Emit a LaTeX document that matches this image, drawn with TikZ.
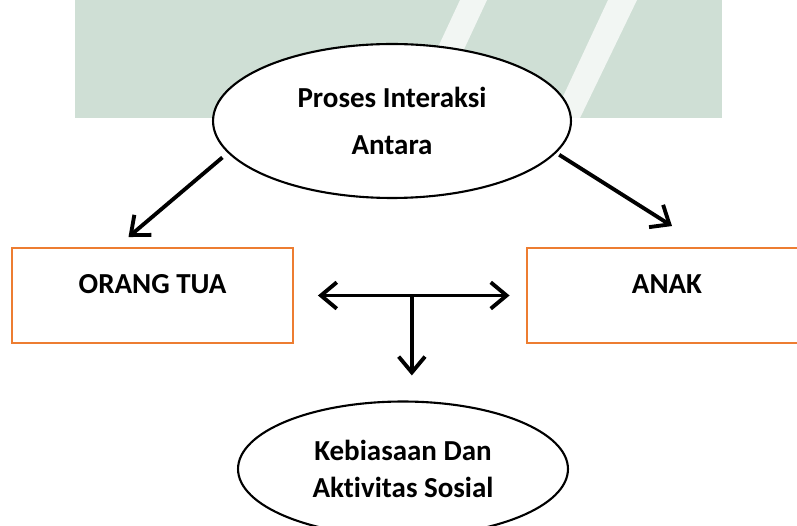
\documentclass[tikz,border=0pt]{standalone}
\usepackage{fontspec}
\setmainfont{Carlito}[Ligatures=NoCommon]
\usepackage{tikz}
\usetikzlibrary{positioning}
\usetikzlibrary{arrows.meta,shapes}
\usetikzlibrary{calc}
\definecolor{watermark}{RGB}{207,223,213}
\definecolor{stripe}{RGB}{242,246,243}
\definecolor{boxorange}{RGB}{237,125,49}
\tikzstyle{bubble}=[ellipse,draw,line width=1.2pt,fill=white,inner sep=0pt,align=center,font=\bfseries\fontsize{16.5}{27}\selectfont]
\tikzstyle{kotak}=[rectangle,draw=boxorange,line width=1.1pt,fill=white,minimum width=5.62cm,minimum height=1.9cm,text height=0.36cm,text depth=0.42cm,font=\bfseries\fontsize{16.5}{20}\selectfont]
\tikzstyle{panah}=[line width=2.2pt]

\begin{document}
\begin{tikzpicture}[x=0.02cm,y=-0.02cm,>={Straight Barb[length=9pt,width=15pt,line width=2.2pt]}]

   \clip (0,0) rectangle (797,526);
   \fill[white] (0,0) rectangle (797,526);

%  watermark in the back
   \fill[watermark] (75,0) rectangle (722,118);
   \fill[stripe] (460,0) -- (487,0) -- (432,118) -- (405,118) -- cycle;
   \fill[stripe] (608,0) -- (637,0) -- (580,118) -- (553,118) -- cycle;

   \node[bubble,minimum width=7.16cm,minimum height=3.08cm] (proses) at (392,121) {Proses Interaksi\\Antara};
   \node[kotak] (ortu) at (152.5,295.5) {ORANG TUA};
   \node[kotak] (anak) at (667,295.5) {ANAK};
   \node[bubble,minimum width=6.6cm,minimum height=2.7cm,font=\bfseries\fontsize{16.5}{21.5}\selectfont] (sosial) at (403,469) {Kebiasaan Dan\\Aktivitas Sosial};

   \draw[->, panah, shorten <=4pt] (proses.191) -- ($(ortu.north)+(-24,-10)$);
   \draw[->, panah, shorten <=2pt] (proses.349) -- ($(anak.north)+(5,-21)$);

   \draw[<->, panah, shorten <=0.48cm, shorten >=0.32cm] (ortu.east) -- (anak.west);
   \coordinate (cabang) at ($(ortu.east)!0.509!(anak.west)$);
   \draw[->, panah] (cabang) -- ($(cabang |- sosial.north)+(0,-25)$);

\end{tikzpicture}
\end{document}
